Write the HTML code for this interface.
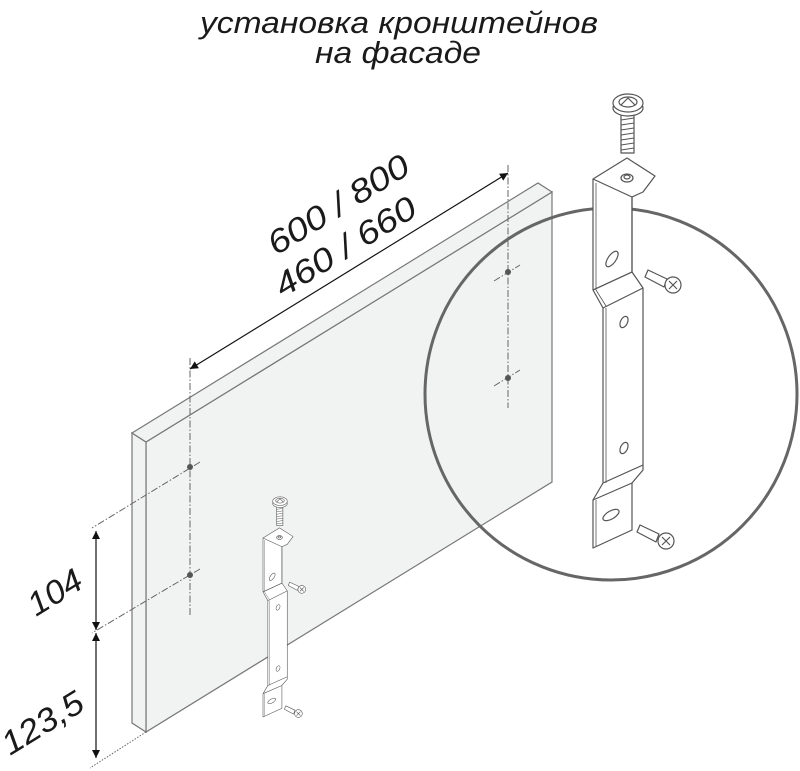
<!DOCTYPE html>
<html><head><meta charset="utf-8"><style>
html,body{margin:0;padding:0;background:#fff;}
svg{display:block;}
text{font-family:"Liberation Sans","Noto Sans CJK SC",sans-serif;font-style:italic;fill:#1a1a1a;}
</style></head><body>
<svg width="800" height="771" viewBox="0 0 800 771" xmlns="http://www.w3.org/2000/svg">
<defs>
<marker id="ar" viewBox="0 0 10 10" refX="10" refY="5" markerWidth="10" markerHeight="8" orient="auto-start-reverse" markerUnits="userSpaceOnUse"><path d="M0,0 L10,5 L0,10 z" fill="#111"/></marker>
<g id="br" stroke="#555" stroke-width="1.2" fill="#fff" stroke-linejoin="round">
  <rect x="621" y="113" width="13" height="40" fill="#fff"/>
  <g stroke-width="1">
    <line x1="621" y1="120" x2="634" y2="118"/><line x1="621" y1="125" x2="634" y2="123"/><line x1="621" y1="130" x2="634" y2="128"/><line x1="621" y1="135" x2="634" y2="133"/><line x1="621" y1="140" x2="634" y2="138"/><line x1="621" y1="145" x2="634" y2="143"/><line x1="621" y1="150" x2="634" y2="148"/>
  </g>
  <ellipse cx="628" cy="108" rx="15" ry="8"/>
  <ellipse cx="628" cy="103" rx="15" ry="9"/>
  <ellipse cx="628" cy="102" rx="9" ry="5"/>
  <path d="M621,105 L628,98 L635,105" fill="none"/>
  <path d="M593,179 L627,158 L655,176 L643,192 L632,197 L632,272 L643,288 L643,470 L632,483 L632,530 L593,548 L593,500 L603,483 L603,308 L593,290 Z"/>
  <path d="M593,179 L632,197 L632,272 L593,290" fill="none"/>
  <path d="M596,183 L596,290 L606,306" fill="none" stroke-width="0.8"/>
  <path d="M593,290 L632,272 M603,308 L643,288" fill="none"/>
  <path d="M603,483 L643,465 M593,500 L632,483" fill="none"/>
  <path d="M596,500 L596,546" fill="none" stroke-width="0.8"/>
  <path d="M606,308 L606,483" fill="none" stroke-width="0.8"/>
  <ellipse cx="627" cy="178" rx="6" ry="4"/><ellipse cx="627" cy="177" rx="3" ry="2"/>
  <ellipse cx="612" cy="259" rx="4" ry="9" transform="rotate(35 612 259)"/>
  <ellipse cx="624" cy="322" rx="3.5" ry="6" transform="rotate(25 624 322)"/>
  <ellipse cx="624" cy="448" rx="3.5" ry="6" transform="rotate(25 624 448)"/>
  <ellipse cx="611" cy="515" rx="4" ry="9" transform="rotate(60 611 515)"/>
  <path d="M648,270 L667,279 L664,287 L645,277 Z"/>
  <circle cx="673" cy="285" r="8"/>
  <path d="M669,281 L677,289 M677,281 L669,289" fill="none"/>
  <path d="M640,525 L659,534 L656,542 L637,532 Z"/>
  <circle cx="666" cy="541" r="8"/>
  <path d="M662,537 L670,545 M670,537 L662,545" fill="none"/>
</g>
</defs>

<text x="200" y="33" font-size="31" textLength="398" lengthAdjust="spacingAndGlyphs">установка кронштейнов</text>
<text x="315" y="63" font-size="31" textLength="166" lengthAdjust="spacingAndGlyphs">на фасаде</text>

<polygon points="146,442 552,192 552,482 146,732" fill="#f1f3f2" stroke="#777" stroke-width="1.2"/>
<polygon points="132,433 146,442 146,732 132,723" fill="#f1f3f2" stroke="#777" stroke-width="1.2"/>
<polygon points="132,433 538,183 552,192 146,442" fill="#f1f3f2" stroke="#777" stroke-width="1.2"/>

<g stroke="#666" stroke-width="1" stroke-dasharray="7,2,1.5,2" fill="none">
  <line x1="190" y1="358" x2="190" y2="615"/>
  <line x1="508" y1="165" x2="508" y2="408"/>
  <line x1="200" y1="462" x2="92" y2="528"/>
  <line x1="200" y1="569" x2="92" y2="633"/>
  <line x1="494" y1="281" x2="520" y2="265"/>
  <line x1="494" y1="386" x2="520" y2="370"/>
</g>
<line x1="146" y1="732" x2="90" y2="768" stroke="#666" stroke-width="1" stroke-dasharray="1.5,1.5"/>
<g fill="#555"><circle cx="190" cy="467" r="3"/><circle cx="190" cy="575" r="3"/><circle cx="508" cy="272" r="3"/><circle cx="508" cy="378" r="3"/></g>

<line x1="190" y1="369" x2="508" y2="173" stroke="#111" stroke-width="1.2" marker-start="url(#ar)" marker-end="url(#ar)"/>
<text font-size="33" textLength="160" lengthAdjust="spacingAndGlyphs" transform="translate(276,256) rotate(-31.6)">600 / 800</text>
<text font-size="33" textLength="160" lengthAdjust="spacingAndGlyphs" transform="translate(283,298) rotate(-31.6)">460 / 660</text>

<line x1="96" y1="531" x2="96" y2="630" stroke="#111" stroke-width="1.2" marker-start="url(#ar)" marker-end="url(#ar)"/>
<line x1="96" y1="633" x2="96" y2="758" stroke="#111" stroke-width="1.2" marker-start="url(#ar)" marker-end="url(#ar)"/>
<text font-size="33" textLength="58" lengthAdjust="spacingAndGlyphs" transform="translate(36,617) rotate(-31.6)">104</text>
<text font-size="33" textLength="90" lengthAdjust="spacingAndGlyphs" transform="translate(10,756) rotate(-31.6)">123,5</text>

<circle cx="611" cy="394" r="186" fill="none" stroke="#666" stroke-width="3"/>

<use href="#br"/>
<use href="#br" transform="translate(-24.6,451.2) scale(0.485)"/>
</svg>
</body></html>
